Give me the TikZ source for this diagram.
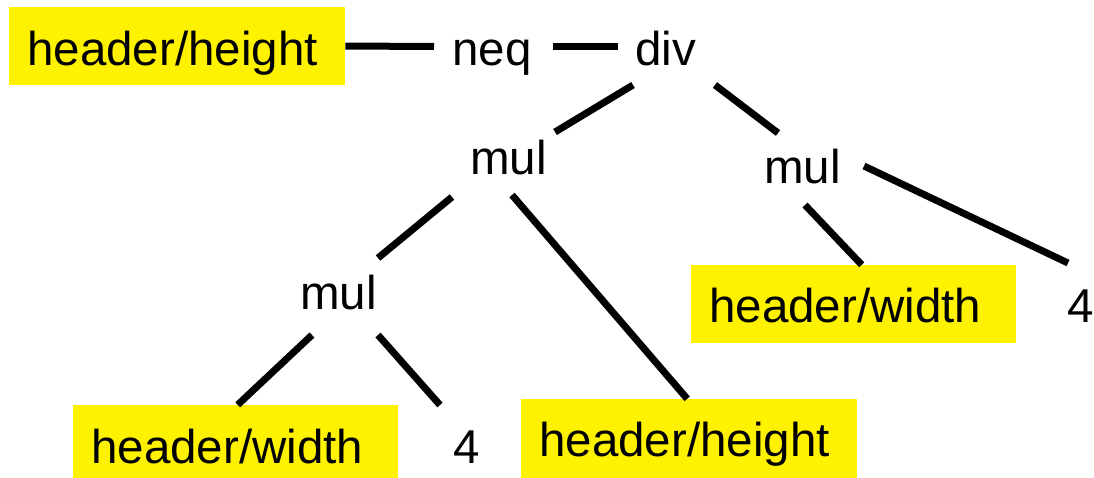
\documentclass[tikz,border=0pt]{standalone}
\usepackage{fontspec}
\setmainfont{Liberation Sans}
\usetikzlibrary{calc}
\begin{document}
\begin{tikzpicture}[x=1pt,y=-1pt,
  every node/.style={font=\fontsize{47.5}{56}\selectfont},
  ybox/.style={fill=yellow, inner xsep=18pt, inner ysep=0pt, anchor=base west, align=left},
  plain/.style={inner sep=0pt, anchor=base west},
  edge/.style={line width=7pt, black}]
\useasboundingbox (0,0) rectangle (1094,477);
% nodes
\node[ybox, text width=300pt, text height=58pt, text depth=20pt] (hh1) at (9,65) {header/height};
\node[plain] (neq) at (452,65) {neq};
\node[plain] (div) at (635,65) {div};
\node[plain] (mul1) at (470,174) {mul};
\node[plain] (mul2) at (764,183) {mul};
\node[plain] (mul3) at (300,309) {mul};
\node[ybox, text width=289pt, text height=57pt, text depth=21pt] (hw2) at (691,322) {header/width};
\node[plain] (four2) at (1067,322) {4};
\node[ybox, text width=289pt, text height=58pt, text depth=16pt] (hw1) at (73,463) {header/width};
\node[plain] (four1) at (453,463) {4};
\node[ybox, text width=300pt, text height=57pt, text depth=23pt] (hh2) at (521,456) {header/height};
% connectors
\draw[edge] (hh1.east) -- ($(neq.base west)+(-18,-18.5)$);
\draw[edge] ($(neq.base west)+(101,-18.5)$) -- ($(div.base west)+(-17,-18.5)$);
\draw[edge] ($(div.base west)+(-2,20)$) -- ($(mul1.base west)+(85,-42)$);
\draw[edge] ($(div.base west)+(80,20)$) -- ($(mul2.base west)+(14,-50)$);
\draw[edge] ($(mul1.base west)+(-18,23)$) -- ($(mul3.base west)+(78,-51)$);
\draw[edge] ($(mul1.base west)+(42,21)$) -- ($(hh2.north)+(-2,0)$);
\draw[edge] ($(mul2.base west)+(41,22)$) -- ($(hw2.north)+(8,0)$);
\draw[edge] ($(mul2.base west)+(100,-17)$) -- ($(four2.base west)+(1,-59)$);
\draw[edge] ($(mul3.base west)+(12,26)$) -- ($(hw1.north)+(2,0)$);
\draw[edge] ($(mul3.base west)+(78,26)$) -- ($(four1.base west)+(-13,-58)$);
\end{tikzpicture}
\end{document}
